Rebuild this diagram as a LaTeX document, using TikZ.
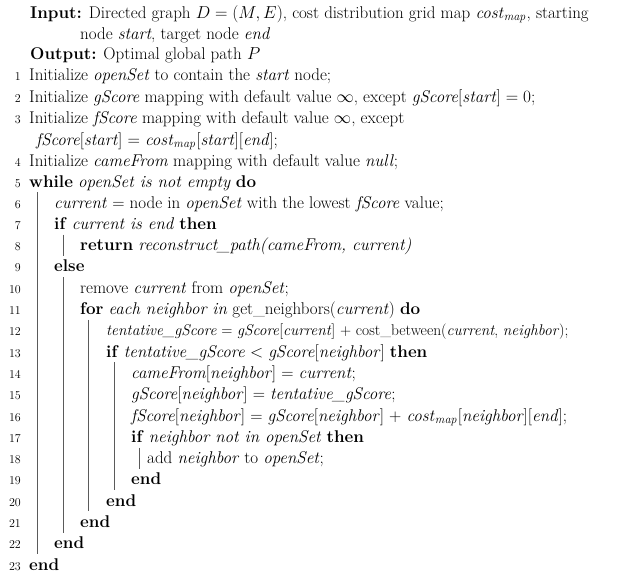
\documentclass[tikz,border=0pt]{standalone}
\usepackage{amsmath}
\usepackage{amssymb}
\usepackage{tikz}
\usetikzlibrary{positioning}
\definecolor{rulegray}{RGB}{90, 90, 90}
\tikzset{
  txt/.style={anchor=base west, inner sep=0pt, font=\fontsize{17}{21}\selectfont},
  num/.style={anchor=base east, inner sep=0pt, font=\fontsize{12}{14}\selectfont},
  vbar/.style={draw=rulegray, line width=0.9pt}
}
\newcommand{\kw}[1]{\textbf{#1}}
\newcommand{\vi}[1]{\textit{#1}}

\begin{document}
\begin{tikzpicture}[x=1pt, y=-1pt]
    \useasboundingbox (0,0) rectangle (620,574);
    % Header
    \node[txt] (inp) at (30,18) {\kw{Input:} Directed graph $D=(M,E)$, cost distribution grid map \vi{cost}$_{\mathit{map}}$, starting};
    \node[txt] (inp2) at (80,39) {node \vi{start}, target node \vi{end}};
    \node[txt] (outp) at (30,59) {\kw{Output:} Optimal global path $P$};

    % Initialisation
    \node[num] (l1) at (21,80) {1};
    \node[txt] (t1) at (29,80) {Initialize \vi{openSet} to contain the \vi{start} node;};
    \node[num] (l2) at (21,102) {2};
    \node[txt] (t2) at (29,102) {Initialize \vi{gScore} mapping with default value $\infty$, except \vi{gScore}[\vi{start}] $=0$;};
    \node[num] (l3) at (21,123) {3};
    \node[txt] (t3) at (29,123) {Initialize \vi{fScore} mapping with default value $\infty$, except};
    \node[txt] (t3b) at (36,145) {\vi{fScore}[\vi{start}] $=$ \vi{cost}$_{\mathit{map}}$[\vi{start}][\vi{end}];};
    \node[num] (l4) at (21,166) {4};
    \node[txt] (t4) at (29,166) {Initialize \vi{cameFrom} mapping with default value \vi{null};};

    % Main loop
    \node[num] (l5) at (21,187) {5};
    \node[txt] (t5) at (29,187) {\kw{while} \vi{openSet is not empty} \kw{do}};
    \node[num] (l6) at (21,208) {6};
    \node[txt] (t6) at (54,208) {\vi{current} = node in \vi{openSet} with the lowest \vi{fScore} value;};
    \node[num] (l7) at (21,229.3) {7};
    \node[txt] (t7) at (54,229.3) {\kw{if} \vi{current is end} \kw{then}};
    \node[num] (l8) at (21,250.6) {8};
    \node[txt] (t8) at (80,250.6) {\kw{return} \vi{reconstruct\_path(cameFrom, current)}};
    \node[num] (l9) at (21,271.9) {9};
    \node[txt] (t9) at (54,271.9) {\kw{else}};
    \node[num] (l10) at (21,293.2) {10};
    \node[txt] (t10) at (80,293.2) {remove \vi{current} from \vi{openSet};};
    \node[num] (l11) at (21,314.5) {11};
    \node[txt] (t11) at (80,314.5) {\kw{for} \vi{each neighbor in} get\_neighbors(\vi{current}) \kw{do}};
    \node[num] (l12) at (21,335.8) {12};
    \node[txt, font=\fontsize{15.5}{21}\selectfont] (t12) at (106,335.8) {\vi{tentative\_gScore} = \vi{gScore}[\vi{current}] + cost\_between(\vi{current}, \vi{neighbor});};
    \node[num] (l13) at (21,357.1) {13};
    \node[txt] (t13) at (106,357.1) {\kw{if} \vi{tentative\_gScore} $<$ \vi{gScore}[\vi{neighbor}] \kw{then}};
    \node[num] (l14) at (21,378.4) {14};
    \node[txt] (t14) at (131,378.4) {\vi{cameFrom}[\vi{neighbor}] = \vi{current};};
    \node[num] (l15) at (21,399.7) {15};
    \node[txt] (t15) at (131,399.7) {\vi{gScore}[\vi{neighbor}] = \vi{tentative\_gScore};};
    \node[num] (l16) at (21,421) {16};
    \node[txt] (t16) at (131,421) {\vi{fScore}[\vi{neighbor}] = \vi{gScore}[\vi{neighbor}] + \vi{cost}$_{\mathit{map}}$[\vi{neighbor}][\vi{end}];};
    \node[num] (l17) at (21,442.3) {17};
    \node[txt] (t17) at (131,442.3) {\kw{if} \vi{neighbor not in openSet} \kw{then}};
    \node[num] (l18) at (21,463.6) {18};
    \node[txt] (t18) at (147,463.6) {add \vi{neighbor} to \vi{openSet};};
    \node[num] (l19) at (21,484.9) {19};
    \node[txt] (t19) at (131,484.9) {\kw{end}};
    \node[num] (l20) at (21,506.2) {20};
    \node[txt] (t20) at (106,506.2) {\kw{end}};
    \node[num] (l21) at (21,527.5) {21};
    \node[txt] (t21) at (80,527.5) {\kw{end}};
    \node[num] (l22) at (21,548.8) {22};
    \node[txt] (t22) at (54,548.8) {\kw{end}};
    \node[num] (l23) at (21,570.1) {23};
    \node[txt] (t23) at (29,570.1) {\kw{end}};

    % Block rules
    \draw[vbar] (37,192) -- (37,554);
    \draw[vbar] (63,234.6) -- (63,255.6);
    \draw[vbar] (63,277) -- (63,532.5);
    \draw[vbar] (88,319.8) -- (88,511.2);
    \draw[vbar] (114,362.4) -- (114,489.9);
    \draw[vbar] (139,447.6) -- (139,468.6);
\end{tikzpicture}
\end{document}
